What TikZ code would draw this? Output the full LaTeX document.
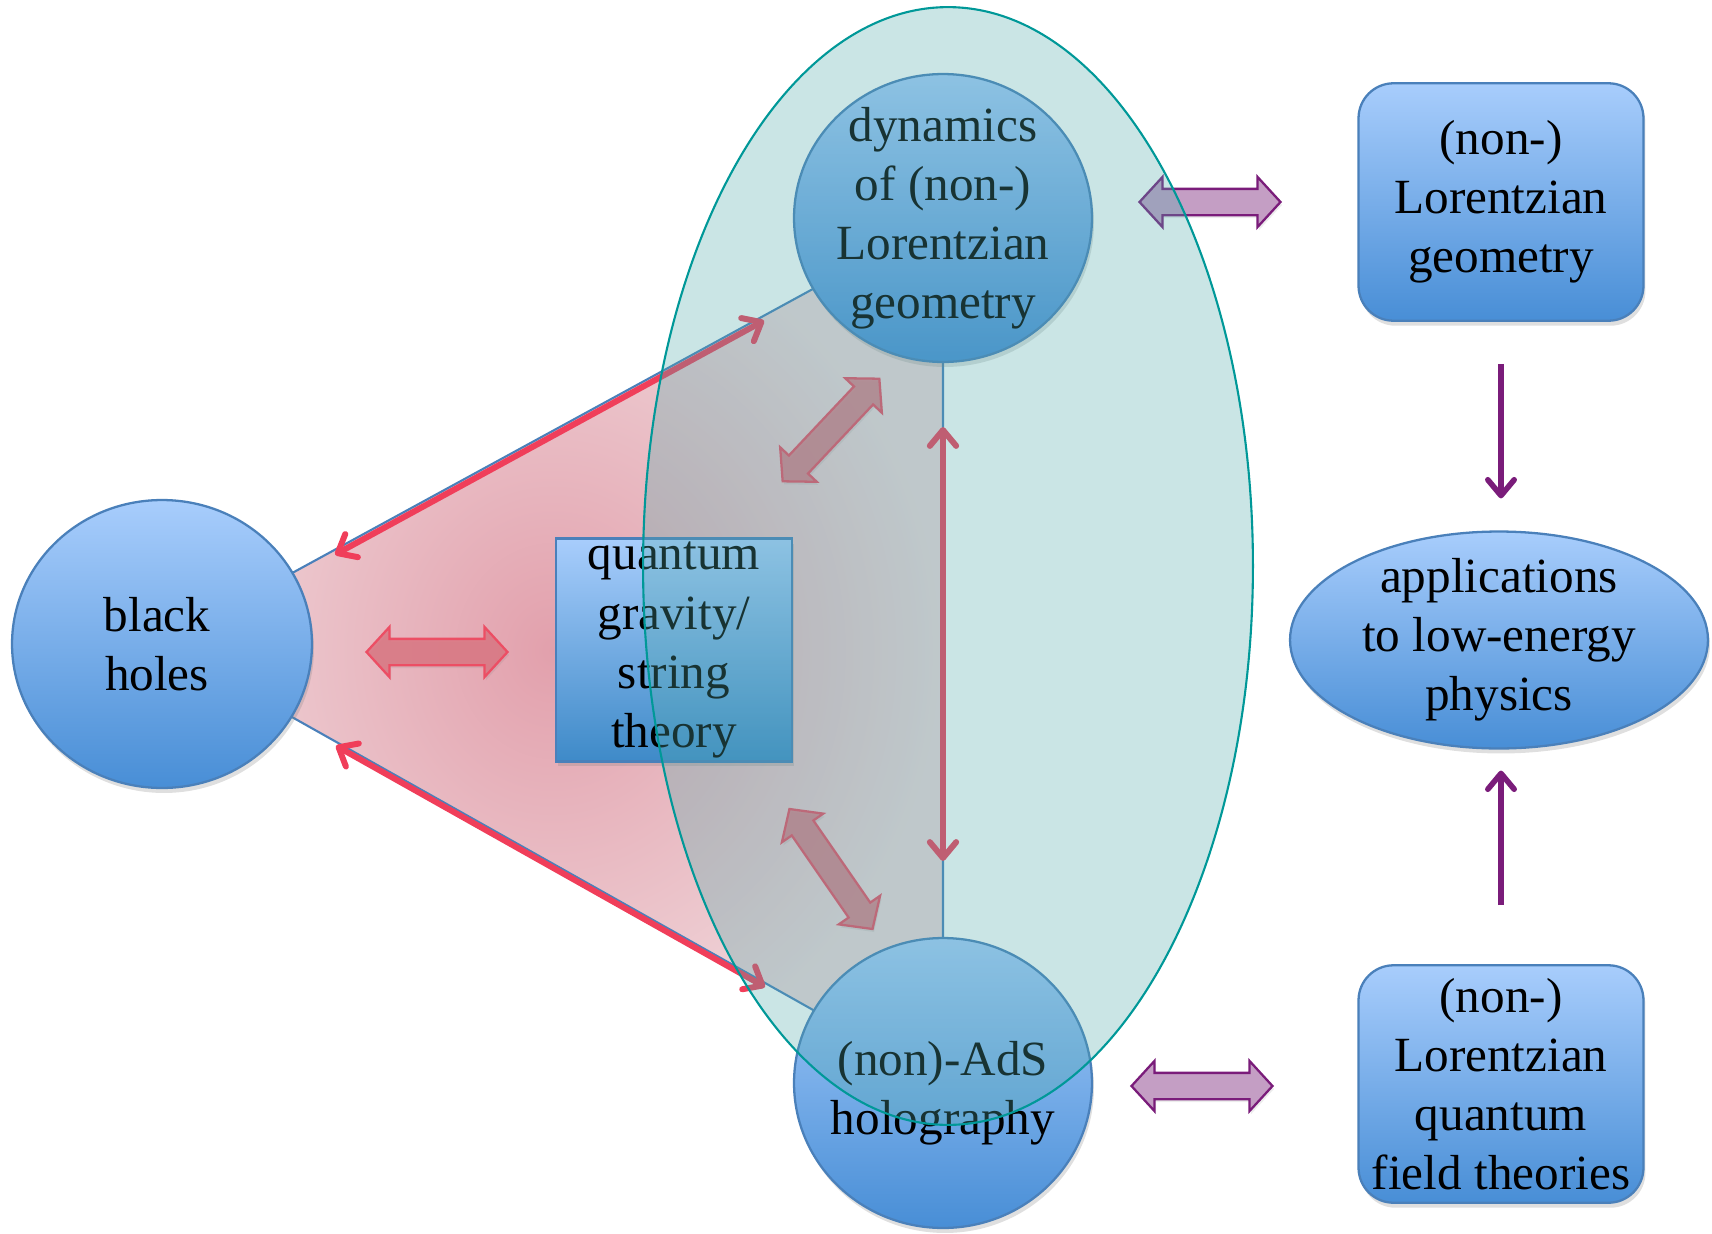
\documentclass[tikz,border=0pt]{standalone}
\usepackage{fontspec}
\setmainfont{Liberation Serif}
\usetikzlibrary{arrows.meta, positioning, shapes.geometric, shapes.arrows, shadows, backgrounds}
\definecolor{bubbletop}{RGB}{168,205,252}
\definecolor{bubblebot}{RGB}{72,142,214}
\definecolor{boxbot}{RGB}{62,138,200}
\definecolor{bubbleedge}{RGB}{74,128,186}
\definecolor{hubfill}{RGB}{80,170,170}
\definecolor{hubedge}{RGB}{0,152,152}
\definecolor{wedgein}{RGB}{226,160,172}
\definecolor{wedgeout}{RGB}{240,214,218}
\definecolor{linkred}{RGB}{240,62,90}
\definecolor{fatredfill}{RGB}{218,118,130}
\definecolor{fatrededge}{RGB}{236,78,100}
\definecolor{linkpurple}{RGB}{122,28,122}
\definecolor{fatpurplefill}{RGB}{196,158,196}

\begin{document}
\begin{tikzpicture}[x=0.02cm, y=-0.02cm]

  \tikzset{
    txt/.style = {
      font=\fontsize{28}{33.6}\selectfont, align=center, inner sep=0pt
    },
    bubble/.style = {
      ellipse, draw=bubbleedge, line width=1.3pt,
      top color=bubbletop, bottom color=bubblebot, inner sep=0pt,
      drop shadow={opacity=0.25, shadow xshift=0.04cm, shadow yshift=-0.1cm}
    },
    card/.style = {
      rectangle, draw=bubbleedge, line width=1.3pt, rounded corners=0.7cm,
      top color=bubbletop, bottom color=bubblebot, txt,
      minimum width=5.7cm, minimum height=4.75cm,
      drop shadow={opacity=0.25, shadow xshift=0.04cm, shadow yshift=-0.1cm}
    },
    qgbox/.style = {
      card, rounded corners=0pt, bottom color=boxbot,
      minimum width=4.72cm, minimum height=4.46cm
    },
    fatred/.style = {
      double arrow, draw=fatrededge, line width=1.3pt,
      fill=fatredfill, fill opacity=0.85, inner xsep=0pt, inner ysep=0.24cm,
      minimum height=2.82cm, minimum width=0.96cm,
      double arrow head extend=0.24cm, double arrow tip angle=95,
      drop shadow={opacity=0.15, shadow xshift=0.03cm, shadow yshift=-0.06cm}
    },
    fatpurple/.style = {
      fatred, draw=linkpurple, fill=fatpurplefill, fill opacity=1
    },
    redlink/.style = {
      {Straight Barb[length=9pt, width=15pt, round]}-{Straight Barb[length=9pt, width=15pt, round]},
      line width=3.4pt, draw=linkred
    },
    purplelink/.style = {
      -{Straight Barb[length=9pt, width=15pt, round]}, line width=3.2pt, draw=linkpurple
    }
  }

  \useasboundingbox (0,0) rectangle (1712,1234);

  % --- shapes ----------------------------------------------------------------
  \node (bh)  [bubble, minimum width=6cm, minimum height=5.76cm,
               label={[txt, name=bh-t, xshift=-0.1cm]center:black\\holes}] at (162,644) {};
  \node (dyn) [bubble, minimum width=5.96cm, minimum height=5.76cm,
               label={[txt, name=dyn-t]center:dynamics\\of (non-)\\Lorentzian\\geometry}] at (943,218) {};
  \node (hol) [bubble, minimum width=5.96cm, minimum height=5.8cm,
               label={[txt, name=hol-t, yshift=-0.2cm]center:(non)-AdS\\holography}] at (943,1083) {};
  \node (qg)  [qgbox] at (674,650) {quantum\\gravity/\\string\\theory};

  \node (geo)  [card] at (1501,202)  {(non-)\\Lorentzian\\geometry};
  \node (qft)  [card] at (1501,1084) {(non-)\\Lorentzian\\quantum\\field theories};
  \node (apps) [bubble, minimum width=8.36cm, minimum height=4.34cm,
                label={[txt, name=apps-t]center:applications\\to low-energy\\physics}] at (1499,640) {};

  % --- wedge behind the triangle of bubbles -----------------------------------
  \begin{scope}[on background layer]
    \shade [inner color=wedgein, outer color=wedgeout]
      (bh.center) -- (dyn.center) -- (hol.center) -- cycle;
    \draw [bubbleedge, line width=1.2pt]
      (bh.center) -- (dyn.center) -- (hol.center) -- cycle;
  \end{scope}

  % --- fat arrows --------------------------------------------------------------
  \node (bh-qg)   [fatred] at (437,652) {};
  \node (qg-dyn)  [fatred, rotate=46.7] at (831,430) {};
  \node (qg-hol)  [fatred, rotate=-55.3, minimum height=2.92cm] at (831,869) {};
  \node (dyn-geo) [fatpurple] at (1210,202) {};
  \node (hol-qft) [fatpurple] at (1202,1086) {};

  % --- thin arrows -------------------------------------------------------------
  \draw [redlink, shorten <=0.95cm, shorten >=1.1cm,
         transform canvas={yshift=-0.1cm}] (bh) -- (dyn);
  \draw [redlink, shorten <=1.0cm, shorten >=1.1cm,
         transform canvas={yshift=-0.08cm}] (bh) -- (hol);
  \draw [redlink, shorten <=1.28cm, shorten >=1.52cm] (dyn) -- (hol);
  \draw [purplelink, shorten <=0.84cm, shorten >=0.64cm] (geo) -- (geo |- apps.north);
  \draw [purplelink, shorten <=1.18cm, shorten >=0.42cm] (qft) -- (qft |- apps.south);

  % --- translucent hub over the middle column ---------------------------------
  \path [fill=hubfill, fill opacity=0.3, draw=hubedge, line width=1.2pt]
    (948,566) ellipse [x radius=6.1cm, y radius=11.18cm];

\end{tikzpicture}
\end{document}
